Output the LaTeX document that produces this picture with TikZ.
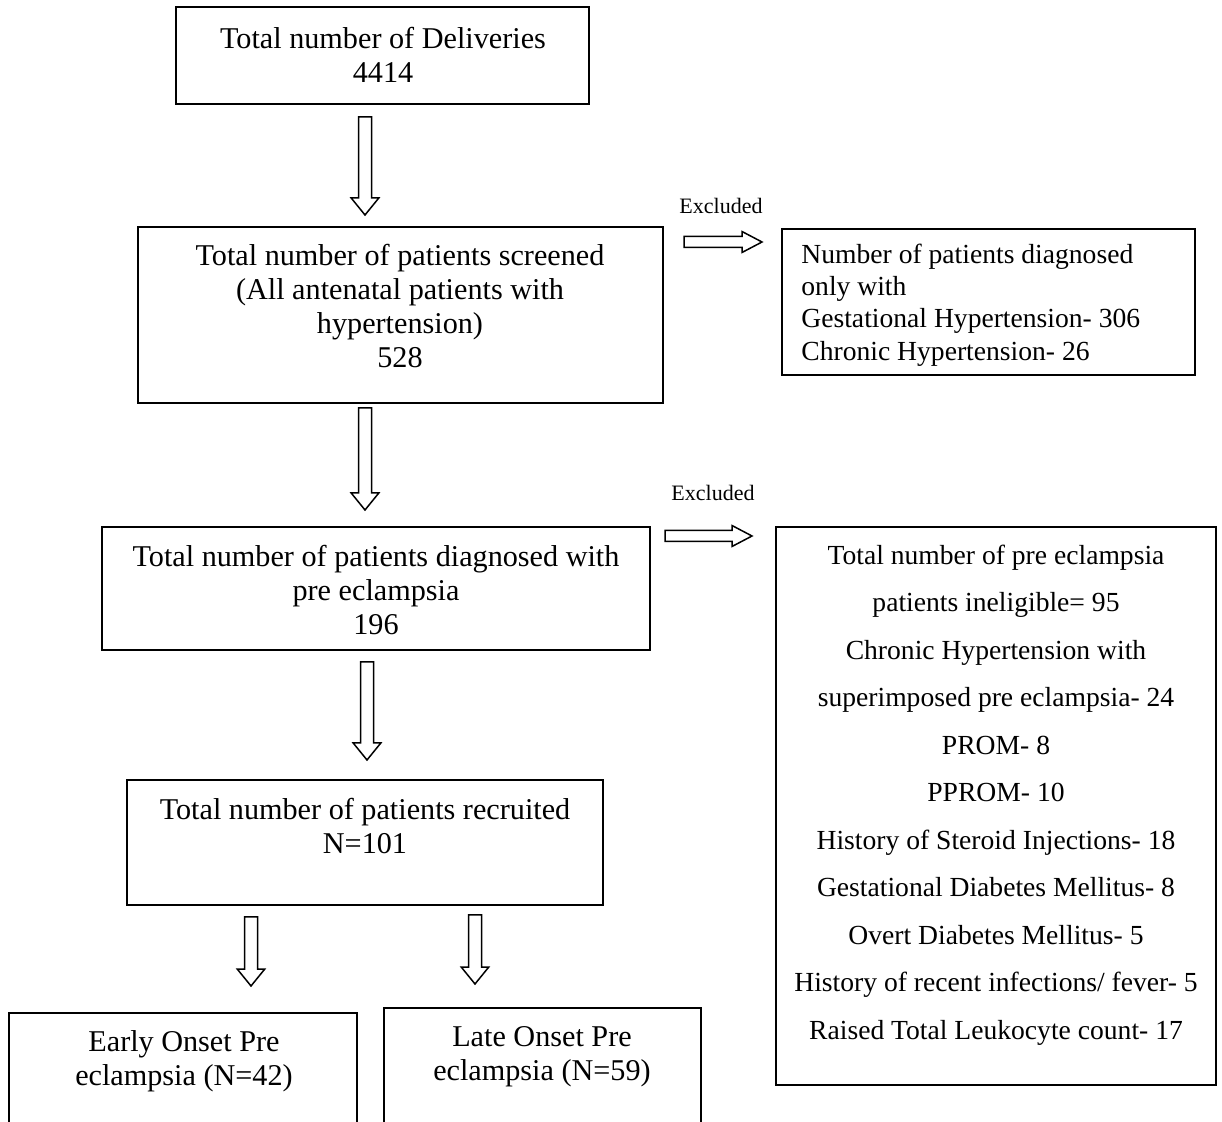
\documentclass[tikz,border=0pt]{standalone}
\usepackage{fontspec}
\setmainfont{Liberation Serif}
\usetikzlibrary{fit,calc}
\tikzset{
  box/.style={draw, line width=1pt, inner sep=0pt},
  blk/.style={draw, line width=0.75pt, fill=white, line join=miter},
  txt/.style={align=center, inner sep=0pt, font=\fontsize{15.1pt}{17pt}\selectfont},
  rtxt/.style={align=center, inner sep=0pt, font=\fontsize{13.8pt}{23.75pt}\selectfont},
  small/.style={inner sep=0pt, font=\fontsize{11pt}{12pt}\selectfont}
}
\newcommand{\blkdown}[2]{%
  \draw[blk] let \p1=(#1), \p2=(#2) in
    (\x1-3.25pt,\y1) -- (\x1+3.25pt,\y1) -- (\x1+3.25pt,\y2+8.5pt) -- (\x1+6.9pt,\y2+8.5pt)
    -- (\x1,\y2) -- (\x1-6.9pt,\y2+8.5pt) -- (\x1-3.25pt,\y2+8.5pt) -- cycle;}
\newcommand{\blkright}[2]{%
  \draw[blk] let \p1=(#1), \p2=(#2) in
    (\x1,\y1-2.75pt) -- (\x1,\y1+2.75pt) -- (\x2-10pt,\y1+2.75pt) -- (\x2-10pt,\y1+5.25pt)
    -- (\x2,\y1) -- (\x2-10pt,\y1-5.25pt) -- (\x2-10pt,\y1-2.75pt) -- cycle;}
\begin{document}
\begin{tikzpicture}[x=0.5pt,y=-0.5pt]
\useasboundingbox (0,0) rectangle (1222,1122);
\clip (0,0) rectangle (1222,1122);
% boxes
\node[box, fit={(176,7) (589,104)}] (b1) {};
\node[box, fit={(138,227) (663,403)}] (b2) {};
\node[box, fit={(782,229) (1195,375)}] (b3) {};
\node[box, fit={(102,527) (650,650)}] (b4) {};
\node[box, fit={(776,527) (1216,1085)}] (b5) {};
\node[box, fit={(127,780) (603,905)}] (b6) {};
\node[box, fit={(9,1013) (357,1140)}] (b7) {};
\node[box, fit={(384,1008) (701,1140)}] (b8) {};
% texts
\node[txt] (t1) at (383,55) {Total number of Deliveries\\4414};
\node[txt] (t2) at (400,306) {Total number of patients screened\\(All antenatal patients with\\hypertension)\\528};
\node[rtxt, align=left, anchor=west, font=\fontsize{13.8pt}{16.2pt}\selectfont] (t3) at (801,305) {Number of patients diagnosed\\only with\\Gestational Hypertension- 306\\Chronic Hypertension- 26};
\node[txt] (t4) at (376,590) {Total number of patients diagnosed with\\pre eclampsia\\196};
\node[rtxt] (t5) at (996,795) {Total number of pre eclampsia\\patients ineligible= 95\\Chronic Hypertension with\\superimposed pre eclampsia- 24\\PROM- 8\\PPROM- 10\\History of Steroid Injections- 18\\Gestational Diabetes Mellitus- 8\\Overt Diabetes Mellitus- 5\\History of recent infections/ fever- 5\\Raised Total Leukocyte count- 17};
\node[txt] (t6) at (365,826) {Total number of patients recruited\\N=101};
\node[txt] (t7) at (184,1061) {Early Onset Pre\\eclampsia (N=42)};
\node[txt] (t8) at (542,1057) {Late Onset Pre\\eclampsia (N=59)};
\node[small] (x1) at (721,206) {Excluded};
\node[small] (x2) at (713,493) {Excluded};
% arrow end points
\coordinate (a1s) at (365,117); \coordinate (a1e) at (365,215);
\coordinate (a2s) at (365,408); \coordinate (a2e) at (365,510);
\coordinate (a3s) at (367,662); \coordinate (a3e) at (367,760);
\coordinate (a4s) at (251,917); \coordinate (a4e) at (251,986);
\coordinate (a5s) at (475,915); \coordinate (a5e) at (475,984);
\coordinate (h1s) at (684,242); \coordinate (h1e) at (762,242);
\coordinate (h2s) at (665,536); \coordinate (h2e) at (752,536);
\blkdown{a1s}{a1e}
\blkdown{a2s}{a2e}
\blkdown{a3s}{a3e}
\blkdown{a4s}{a4e}
\blkdown{a5s}{a5e}
\blkright{h1s}{h1e}
\blkright{h2s}{h2e}
\end{tikzpicture}
\end{document}
